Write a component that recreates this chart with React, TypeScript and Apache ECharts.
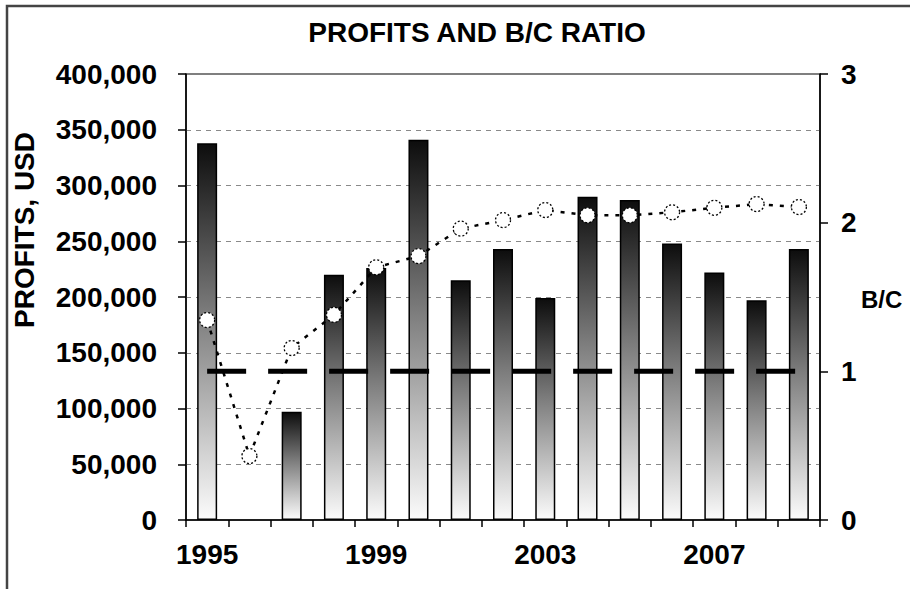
import React, { useEffect, useRef } from "react";
import * as echarts from "echarts";

const years = ["1995","1996","1997","1998","1999","2000","2001","2002","2003","2004","2005","2006","2007","2008","2009"];
const profits = [338000, null, 97000, 220000, 226000, 341000, 215000, 243000, 199000, 290000, 287000, 248000, 222000, 197000, 243000];
const bcRatio = [1.345, 0.43, 1.157, 1.38, 1.70, 1.775, 1.96, 2.017, 2.085, 2.05, 2.05, 2.07, 2.10, 2.125, 2.105];
const breakEven = [1, 1, 1, 1, 1, 1, 1, 1, 1, 1, 1, 1, 1, 1, 1];

const FONT = "'Liberation Sans', Arial, sans-serif";

export default function App() {
  const ref = useRef<HTMLDivElement>(null);
  useEffect(() => {
    document.body.style.margin = "0";
    if (!ref.current) return;
    const chart = echarts.init(ref.current, undefined, { renderer: "svg" });
    const labelStyle = { color: "#000", fontFamily: FONT, fontWeight: "bold" as const, fontSize: 28 };
    chart.setOption({
      animation: false,
      backgroundColor: "#fff",
      grid: { left: 186, right: 90, top: 74, bottom: 69, show: true, borderColor: "#000", borderWidth: 1.2, backgroundColor: "transparent" },
      graphic: [
        { type: "rect", shape: { x: 7, y: 6, width: 930, height: 610 }, style: { fill: "none", stroke: "#444", lineWidth: 2.5 }, silent: true },
        { type: "text", x: 477, y: 32, style: { text: "PROFITS AND B/C RATIO", fill: "#000", font: `bold 28px ${FONT}`, textAlign: "center", textVerticalAlign: "middle" } },
        { type: "text", x: 24, y: 230, rotation: Math.PI / 2, style: { text: "PROFITS, USD", fill: "#000", font: `bold 28px ${FONT}`, textAlign: "center", textVerticalAlign: "middle" } },
        { type: "text", x: 861, y: 299, style: { text: "B/C", fill: "#000", font: `bold 24px ${FONT}`, textAlign: "left", textVerticalAlign: "middle" } },
      ],
      xAxis: {
        type: "category",
        data: years,
        boundaryGap: true,
        axisLine: { lineStyle: { color: "#000", width: 1.5 } },
        axisTick: { show: true, interval: 0, length: 7, inside: false, lineStyle: { color: "#000", width: 1.5 } },
        axisLabel: { ...labelStyle, interval: 3, margin: 20 },
        splitLine: { show: false },
      },
      yAxis: [
        {
          type: "value",
          min: 0,
          max: 400000,
          interval: 50000,
          axisLine: { show: true, lineStyle: { color: "#000", width: 1.5 } },
          axisTick: { show: true, length: 8, lineStyle: { color: "#000", width: 1.5 } },
          axisLabel: {
            ...labelStyle,
            margin: 29,
            formatter: (v: number) => v.toLocaleString("en-US"),
          },
          splitLine: { show: true, showMinLine: false, showMaxLine: false, lineStyle: { color: "#8a8a8a", type: [5, 5], width: 1 } },
        },
        {
          type: "value",
          min: 0,
          max: 3,
          interval: 1,
          position: "right",
          axisLine: { show: true, lineStyle: { color: "#000", width: 1.5 } },
          axisTick: { show: true, length: 8, lineStyle: { color: "#000", width: 1.5 } },
          axisLabel: { ...labelStyle, margin: 21 },
          splitLine: { show: false },
        },
      ],
      series: [
        {
          type: "bar",
          name: "Profits",
          data: profits,
          barWidth: 20,
          yAxisIndex: 0,
          itemStyle: {
            color: new echarts.graphic.LinearGradient(0, 0, 0, 1, [
              { offset: 0, color: "#0d0d0d" },
              { offset: 0.45, color: "#7c7c7c" },
              { offset: 1, color: "#fbfbfb" },
            ]),
            borderColor: "#000",
            borderWidth: 1.5,
          },
          z: 2,
        },
        {
          type: "line",
          name: "Break-even",
          data: breakEven,
          yAxisIndex: 1,
          symbol: "none",
          lineStyle: { color: "#000", width: 5, type: [39, 22] },
          z: 3,
        },
        {
          type: "line",
          name: "B/C",
          data: bcRatio,
          yAxisIndex: 1,
          symbol: "circle",
          symbolSize: 15,
          lineStyle: { color: "#000", width: 2.5, type: [4, 7] },
          itemStyle: { color: "#fff", borderColor: "#000", borderWidth: 1.3, borderType: [2, 2] },
          z: 4,
        },
      ],
    });
    return () => chart.dispose();
  }, []);
  return <div ref={ref} style={{ width: 910, height: 589 }} />;
}
